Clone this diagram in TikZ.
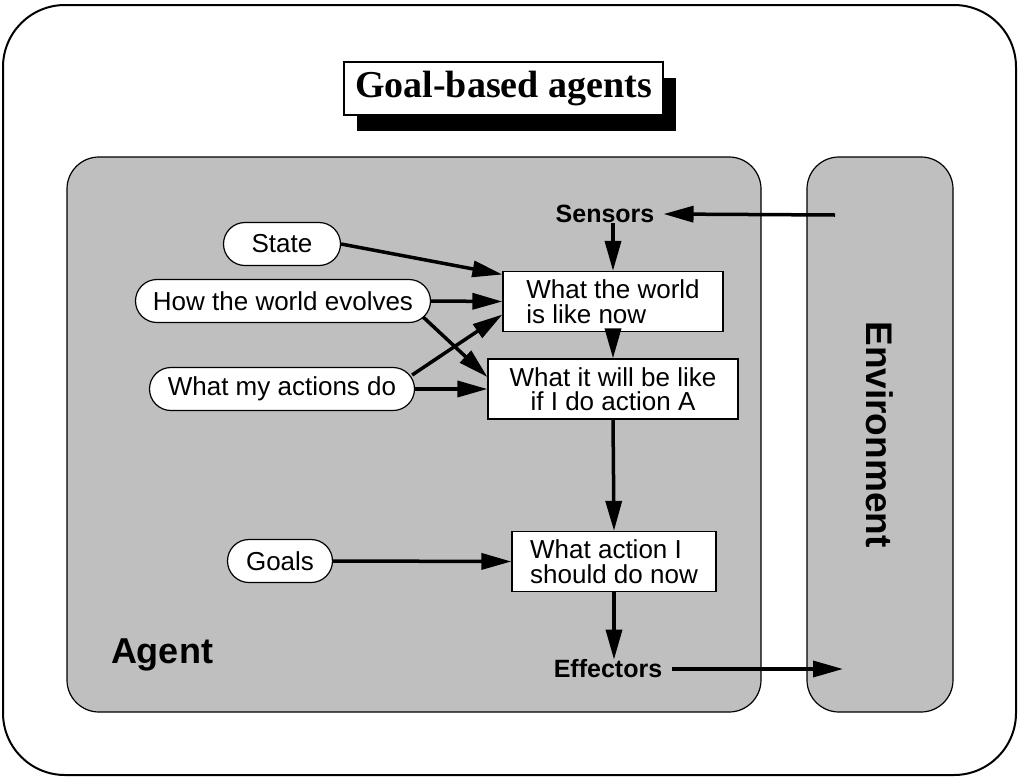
\documentclass[tikz,border=0pt]{standalone}
\usepackage{fontspec}
\setmainfont{Liberation Serif}
\setsansfont{Liberation Sans}
\usepackage{tikz}
\usetikzlibrary{shapes.misc,arrows.meta,shadows}
\definecolor{agentgray}{RGB}{191,191,191}
\tikzstyle{frame} = 
[
	line width = 2pt, 
	rounded corners = 62pt
]
\tikzstyle{titlebox} = 
[
	rectangle, 
	draw = black, 
	line width = 1.2pt, 
	fill = white, 
	minimum width = 319pt, 
	minimum height = 53pt, 
	font = \bfseries\fontsize{38}{40}\selectfont, 
	general shadow = {fill = black, shadow xshift = 13pt, shadow yshift = -16pt}
]
\tikzstyle{region} = 
[
	rectangle, 
	draw = black, 
	line width = 1.2pt, 
	fill = agentgray, 
	rounded corners = 32pt, 
	font = \sffamily\bfseries\fontsize{37}{40}\selectfont
]
\tikzstyle{knowledge} = 
[
	rounded rectangle, 
	draw = black, 
	line width = 1.2pt, 
	fill = white, 
	minimum height = 43pt, 
	inner sep = 0pt, 
	font = \sffamily\fontsize{26}{29}\selectfont
]
\tikzstyle{process} = 
[
	rectangle, 
	draw = black, 
	line width = 1.2pt, 
	fill = white, 
	minimum height = 60pt, 
	align = left, 
	inner sep = 0pt, 
	font = \sffamily\fontsize{26}{24.5}\selectfont
]
\tikzstyle{port} = 
[
	inner sep = 0pt, 
	font = \sffamily\bfseries\fontsize{25}{29}\selectfont
]
\tikzstyle{arrow} = [line width = 3.5pt, -{Triangle[length = 30pt, width = 16pt]}]

\begin{document}
\begin{tikzpicture}[x = 1pt, y = -1pt]
	\useasboundingbox (0,0) rectangle (1018,777);
	
	\draw [frame] (3,5) rectangle (1016,775);
	
	\node
	(title)
	[titlebox]
	at (503.5,88.5)
	{Goal-based agents};
	
	
	\node
	(agent)
	[
		region,
		minimum width = 694pt,
		minimum height = 555pt
	]
	at (414,434.5)
	{};
	
	\node
	(environment)
	[
		region,
		rotate = -90,
		minimum width = 555pt,
		minimum height = 146pt
	]
	at (880,434.5)
	{Environment};
	
	\node
	(AgentLabel)
	[port, font = \sffamily\bfseries\fontsize{36}{40}\selectfont]
	at (162,655)
	{Agent};
	
	\node
	(Sensors)
	[port]
	at (605,214)
	{Sensors};
	
	\node
	(Effectors)
	[port]
	at (608,669)
	{Effectors};
	
	\coordinate (EnvIn) at (835,215);
	\coordinate (EnvOut) at (843,669);
	
	
	\node
	(WorldNow)
	[
		process,
		minimum width = 220pt
	]
	at (613,301.5)
	{
		What the world\\
		is like now
	};
	
	\node
	(WillBe)
	[
		process,
		align = center,
		minimum width = 250pt
	]
	at (613,389)
	{
		What it will be like\\
		if I do action A
	};
	
	\node
	(ActionNow)
	[
		process,
		minimum width = 204pt
	]
	at (614,561.5)
	{
		What action I\\
		should do now
	};
	
	
	\node
	(State)
	[
		knowledge,
		minimum width = 117pt
	]
	at (282,244)
	{State};
	
	\node
	(Evolves)
	[
		knowledge,
		minimum width = 295pt
	]
	at (283,301)
	{How the world evolves};
	
	\node
	(ActionsDo)
	[
		knowledge,
		minimum width = 265pt
	]
	at (282,389)
	{What my actions do};
	
	\node
	(Goals)
	[
		knowledge,
		minimum width = 105pt
	]
	at (280,561)
	{Goals};
	
	\draw [arrow] (EnvIn) -- ([xshift = 9pt]Sensors.east);
	\draw [arrow] (WorldNow.north |- Sensors.south) -- (WorldNow.north);
	\draw [arrow] (State.east) -- ([yshift = 27pt]WorldNow.west);
	\draw [arrow] (Evolves.east) -- (WorldNow.west);
	\draw [arrow] ([xshift = -8pt, yshift = -16pt]Evolves.east) -- ([yshift = 12pt]WillBe.west);
	\draw [arrow] ([xshift = -3pt, yshift = 14pt]ActionsDo.east) -- ([yshift = -13pt]WorldNow.west);
	\draw [arrow] (ActionsDo.east) -- (WillBe.west);
	\draw [arrow] (WorldNow.south) -- (WillBe.north);
	\draw [arrow] (WillBe.south) -- (ActionNow.north);
	\draw [arrow] (Goals.east) -- (ActionNow.west);
	\draw [arrow] (ActionNow.south) -- (ActionNow.south |- Effectors.north);
	\draw [arrow] ([xshift = 10pt]Effectors.east) -- (EnvOut);
	
\end{tikzpicture}
\end{document}
